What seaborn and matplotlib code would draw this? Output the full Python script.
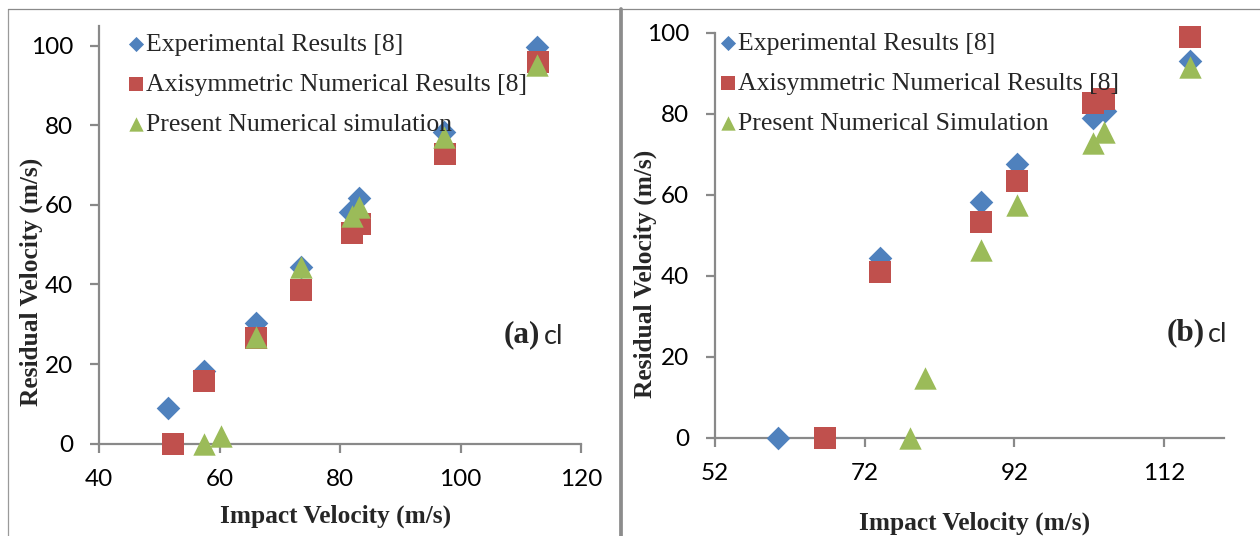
import matplotlib
matplotlib.use("Agg")
import matplotlib.pyplot as plt
from matplotlib.lines import Line2D
from matplotlib.font_manager import FontProperties
import seaborn as sns

# ---- panel (a) ----
a_exp_x = [51.4, 57.4, 66.0, 73.5, 81.7, 83.2, 97.2, 112.7]
a_exp_y = [9.0, 18.3, 30.3, 44.5, 58.2, 61.8, 78.3, 99.7]
a_axi_x = [52.3, 57.4, 66.0, 73.5, 82.0, 83.3, 97.4, 112.8]
a_axi_y = [0.0, 15.8, 26.5, 38.6, 53.0, 55.2, 72.7, 95.9]
a_sim_x = [57.4, 60.2, 66.0, 73.5, 82.0, 83.2, 97.2, 112.7]
a_sim_y = [0.0, 2.0, 26.9, 44.3, 57.3, 59.5, 77.0, 95.2]
a_xticks = [40, 60, 80, 100, 120]
a_labels = ["Experimental Results [8]",
            "Axisymmetric Numerical Results [8]",
            "Present Numerical simulation"]

# ---- panel (b) ----
b_exp_x = [60.5, 74.1, 87.5, 92.4, 102.5, 104.1, 115.4]
b_exp_y = [0.0, 44.3, 58.2, 67.5, 78.9, 80.6, 93.0]
b_axi_x = [66.7, 74.0, 87.5, 92.4, 102.5, 104.0, 115.4]
b_axi_y = [0.0, 40.9, 53.2, 63.3, 82.5, 83.5, 98.9]
b_sim_x = [78.1, 80.1, 87.5, 92.4, 102.5, 104.0, 115.4]
b_sim_y = [0.0, 14.8, 46.4, 57.4, 72.6, 75.5, 91.6]
b_xticks = [52, 72, 92, 112]
b_labels = ["Experimental Results [8]",
            "Axisymmetric Numerical Results [8]",
            "Present Numerical Simulation"]

yticks = [0, 20, 40, 60, 80, 100]

BLUE, RED, GREEN = "#4F81BD", "#C0504D", "#9BBB59"
AXIS_GREY = "#898989"

sns.set_theme(style="white")
plt.rcParams["font.family"] = ["Lato", "DejaVu Sans"]

W, H = 1260, 536
fig = plt.figure(figsize=(W / 100, H / 100), dpi=100)
fig.patch.set_facecolor("white")


def px_axes(x0, x1, ytop, ybot):
    return fig.add_axes([x0 / W, (H - ybot) / H, (x1 - x0) / W, (ybot - ytop) / H])


serif = "Liberation Serif"
leg_font = FontProperties(family=serif, size=18.5)
lab_font = dict(family=serif, weight="bold", size=18.3)


def panel(ax, ex, ey, rx, ry, gx, gy, labels, xlim, ylim, xticks,
          leg_anchor, xlab_pos, ylab_pos):
    sns.scatterplot(x=ex, y=ey, ax=ax, marker="D", s=145, color=BLUE,
                    linewidth=0, label=labels[0], zorder=3)
    sns.scatterplot(x=rx, y=ry, ax=ax, marker="s", s=250, color=RED,
                    linewidth=0, label=labels[1], zorder=4)
    sns.scatterplot(x=gx, y=gy, ax=ax, marker="^", s=260, color=GREEN,
                    linewidth=0, label=labels[2], zorder=5)
    ax.set_xlim(*xlim)
    ax.set_ylim(*ylim)
    ax.set_xticks(xticks)
    ax.set_yticks(yticks)
    for side in ("top", "right"):
        ax.spines[side].set_visible(False)
    for side in ("left", "bottom"):
        ax.spines[side].set_color(AXIS_GREY)
        ax.spines[side].set_linewidth(1.6)
    ax.tick_params(direction="out", length=6.5, width=1.6, color=AXIS_GREY,
                   pad=12, labelsize=17.5, labelcolor="black",
                   bottom=True, left=True)
    ax.set_facecolor("none")
    ax.set_xlabel("Impact Velocity (m/s)", **lab_font)
    ax.set_ylabel("Residual Velocity (m/s)", **lab_font)
    ax.xaxis.set_label_coords(*xlab_pos)
    ax.xaxis.label.set_va("center")
    ax.yaxis.set_label_coords(*ylab_pos)
    ax.yaxis.label.set_va("center")
    for coll in ax.collections:
        coll.set_clip_on(False)
    ax.legend(loc="upper left", bbox_to_anchor=leg_anchor, frameon=False,
              prop=leg_font, markerscale=0.64, handletextpad=0.1,
              handlelength=0.6, borderpad=0, borderaxespad=0,
              labelspacing=0.66)


ax_a = px_axes(98.9, 581.3, 25.6, 443.8)
panel(ax_a, a_exp_x, a_exp_y, a_axi_x, a_axi_y, a_sim_x, a_sim_y, a_labels,
      (40, 120), (0, 105), a_xticks, (0.060, 0.983), (0.4915, -0.173), (-0.141, 0.387))

ax_b = px_axes(714.7, 1224.1, 32.5, 437.6)
panel(ax_b, b_exp_x, b_exp_y, b_axi_x, b_axi_y, b_sim_x, b_sim_y, b_labels,
      (52, 120), (0, 100), b_xticks, (0.0104, 1.001), (0.511, -0.211), (-0.136, 0.404))

# panel tags
for x_tag, x_cl, y, tag in [(504, 543.5, 335, "(a)"), (1167, 1207.5, 333, "(b)")]:
    fig.text(x_tag / W, 1 - y / H, tag, family=serif, weight="bold", size=22.5,
             ha="left", va="center")
    fig.text(x_cl / W, 1 - (y + 1) / H, "cl", size=19.5, ha="left", va="center")

# chart frames
fig.add_artist(Line2D([8 / W, 8 / W], [0, 1 - 9 / H], transform=fig.transFigure,
                      color="#9a9a9a", lw=0.9))
fig.add_artist(Line2D([8 / W, 1], [1 - 9 / H, 1 - 9 / H], transform=fig.transFigure,
                      color="#8a8a8a", lw=0.9))
fig.add_artist(Line2D([621 / W, 621 / W], [0, 1 - 9 / H], transform=fig.transFigure,
                      color="#8c8c8c", lw=2.7))

fig.savefig("out.png", dpi=100, facecolor="white")
